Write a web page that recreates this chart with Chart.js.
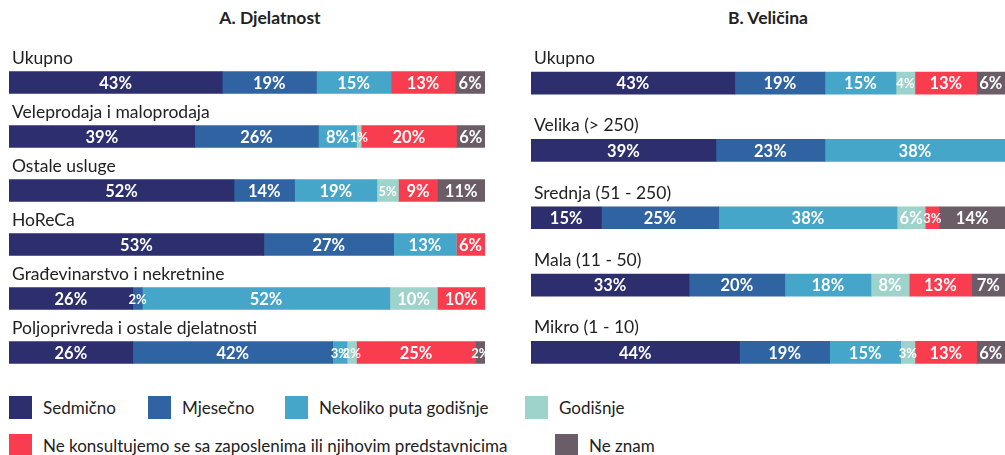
<!DOCTYPE html>
<html>
<head>
<meta charset="utf-8">
<script src="https://cdn.jsdelivr.net/npm/chart.js@4"></script>
<style>
  html, body { margin: 0; padding: 0; background: #fff; }
  body { width: 1005px; height: 455px; position: relative; overflow: hidden; font-family: Lato, sans-serif; color: #222; }
  .title { position: absolute; top: 7px; font-weight: bold; font-size: 17.5px; text-align: center; width: 300px; }
  canvas { position: absolute; top: 0; }
  .lg { position: absolute; height: 23px; line-height: 23px; font-size: 17px; white-space: nowrap; }
  .lg span { position: absolute; left: 0; top: 0; width: 23px; height: 23px; }
  .lg b { font-weight: normal; position: absolute; top: 0; }
</style>
</head>
<body>
<div class="title" style="left:120px">A. Djelatnost</div>
<div class="title" style="left:618px">B. Veličina</div>
<canvas id="sectorChart" width="495" height="390" style="left:0"></canvas>
<canvas id="sizeChart" width="485" height="390" style="left:520px"></canvas>
<div id="legend"></div>
<script>
const series = ['Sedmično', 'Mjesečno', 'Nekoliko puta godišnje', 'Godišnje',
    'Ne konsultujemo se sa zaposlenima ili njihovim predstavnicima', 'Ne znam'];
const colors = ['#2c2e6e', '#2f63a1', '#45a6c9', '#9dd3ca', '#f93c4e', '#6b5d67'];

// A. Djelatnost
const sectorLabels = ['Ukupno', 'Veleprodaja i maloprodaja', 'Ostale usluge', 'HoReCa',
    'Građevinarstvo i nekretnine', 'Poljoprivreda i ostale djelatnosti'];
const sectorSedmicno = [43, 39, 52, 53, 26, 26];
const sectorMjesecno = [19, 26, 14, 27, 2, 42];
const sectorNekoliko = [15, 8, 19, 13, 52, 3];
const sectorGodisnje = [0, 1, 5, 0, 10, 2];
const sectorNeKonsultujemo = [13, 20, 9, 6, 10, 25];
const sectorNeZnam = [6, 6, 11, 0, 0, 2];

// B. Veličina
const sizeLabels = ['Ukupno', 'Velika (> 250)', 'Srednja (51 - 250)', 'Mala (11 - 50)', 'Mikro (1 - 10)'];
const sizeSedmicno = [43, 39, 15, 33, 44];
const sizeMjesecno = [19, 23, 25, 20, 19];
const sizeNekoliko = [15, 38, 38, 18, 15];
const sizeGodisnje = [4, 0, 6, 8, 3];
const sizeNeKonsultujemo = [13, 0, 3, 13, 13];
const sizeNeZnam = [6, 0, 14, 7, 6];

// bars fill the full width, so each row is scaled to its own sum
function buildDatasets(rows) {
    const n = rows[0].length;
    const sums = [];
    for (let i = 0; i < n; i++) sums.push(rows.reduce((s, r) => s + r[i], 0));
    return rows.map((r, k) => ({
        label: series[k],
        raw: r,
        data: r.map((v, i) => v / sums[i] * 100),
        backgroundColor: colors[k],
        barThickness: 22,
        borderWidth: 0
    }));
}

const textPlugin = {
    id: 'texts',
    afterDatasetsDraw(chart) {
        const ctx = chart.ctx;
        ctx.save();
        // category names above the bars
        const first = chart.getDatasetMeta(0);
        ctx.fillStyle = '#222';
        ctx.font = '17.5px Lato';
        ctx.textAlign = 'left';
        ctx.textBaseline = 'alphabetic';
        chart.data.labels.forEach((l, i) => {
            const b = first.data[i];
            ctx.fillText(l, chart.chartArea.left + 3, b.y - 11 - 8);
        });
        // percentage values inside the segments
        ctx.fillStyle = '#fff';
        ctx.textAlign = 'center';
        ctx.textBaseline = 'middle';
        chart.data.datasets.forEach((ds, di) => {
            chart.getDatasetMeta(di).data.forEach((bar, i) => {
                const v = ds.raw[i];
                if (!v) return;
                const w = Math.abs(bar.x - bar.base);
                ctx.font = 'bold ' + (w < 24 ? 13 : 16.5) + 'px Lato';
                ctx.fillText(v + '%', (bar.x + bar.base) / 2, bar.y + 1);
            });
        });
        ctx.restore();
    }
};

function makeChart(id, labels, rows, padding) {
    new Chart(document.getElementById(id), {
        type: 'bar',
        data: { labels: labels, datasets: buildDatasets(rows) },
        options: {
            indexAxis: 'y',
            responsive: false,
            animation: false,
            layout: { padding: padding },
            plugins: { legend: { display: false }, tooltip: { enabled: false } },
            scales: {
                x: { stacked: true, min: 0, max: 100, display: false },
                y: { stacked: true, display: false }
            }
        },
        plugins: [textPlugin]
    });
}

makeChart('sectorChart', sectorLabels,
    [sectorSedmicno, sectorMjesecno, sectorNekoliko, sectorGodisnje, sectorNeKonsultujemo, sectorNeZnam],
    { left: 9, right: 10, top: 55.5, bottom: 10.5 });
makeChart('sizeChart', sizeLabels,
    [sizeSedmicno, sizeMjesecno, sizeNekoliko, sizeGodisnje, sizeNeKonsultujemo, sizeNeZnam],
    { left: 11, right: 0, top: 49.5, bottom: 4 });

// legend
const legendPos = [[9, 396], [148, 396], [285, 396], [525, 396], [9, 434], [555, 434]];
const lg = document.getElementById('legend');
series.forEach((s, k) => {
    const d = document.createElement('div');
    d.className = 'lg';
    d.style.left = legendPos[k][0] + 'px';
    d.style.top = legendPos[k][1] + 'px';
    d.innerHTML = '<span style="background:' + colors[k] + '"></span><b style="left:34px">' + s + '</b>';
    lg.appendChild(d);
});
</script>
</body>
</html>
